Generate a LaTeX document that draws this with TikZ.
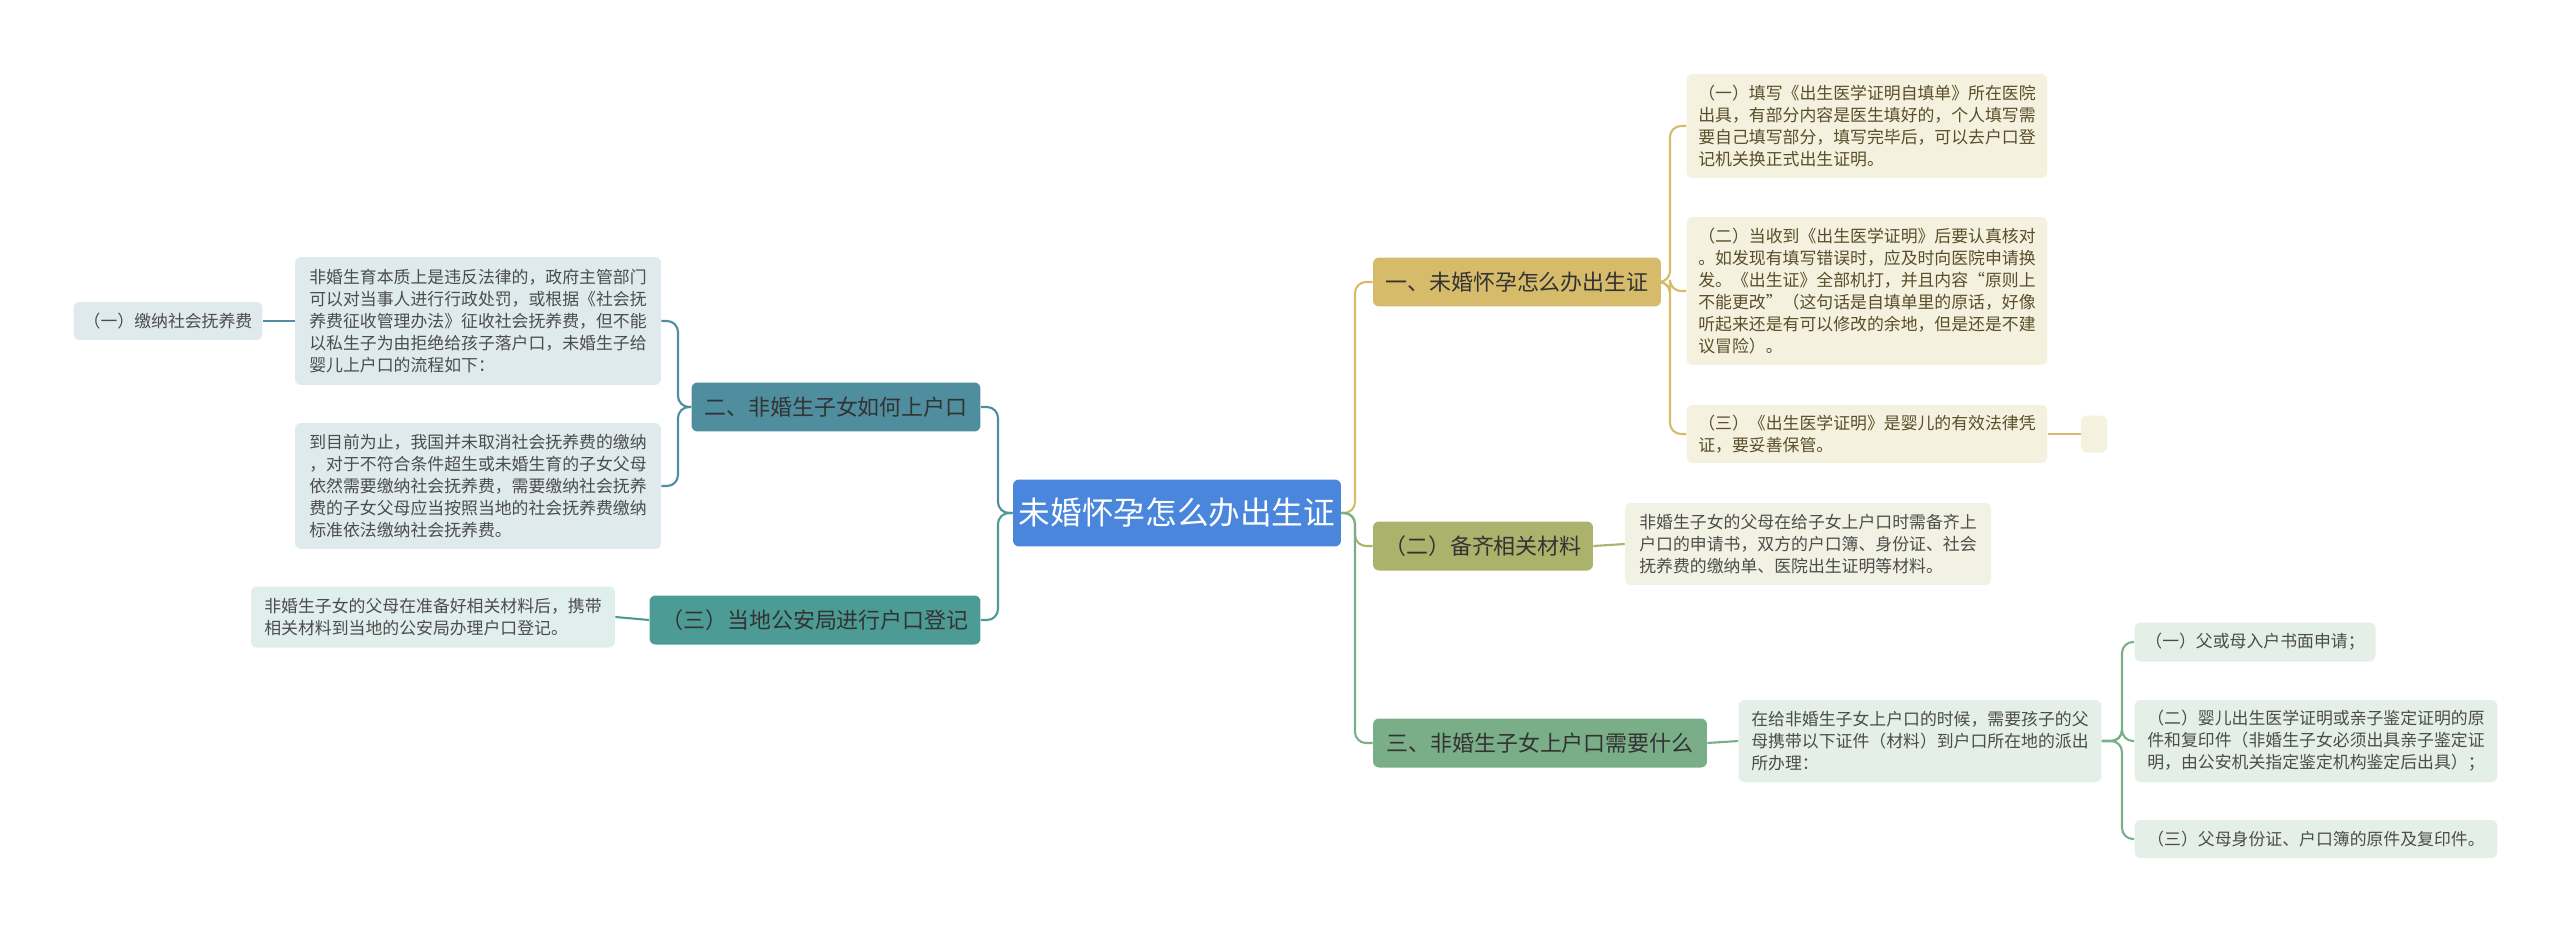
\documentclass[tikz,border=0pt]{standalone}
\usepackage{fontspec}
\setmainfont{Noto Sans CJK SC}
\usepackage{xcolor}
\usetikzlibrary{calc, positioning}
\definecolor{rootblue}{HTML}{4A87DC}
\definecolor{goldB}{HTML}{D5BB6A}
\definecolor{oliveB}{HTML}{AAB26B}
\definecolor{greenB}{HTML}{7AAE88}
\definecolor{tealA}{HTML}{4F8E9E}
\definecolor{tealB}{HTML}{4C9B94}
\definecolor{goldL}{HTML}{F5F1DF}
\definecolor{oliveL}{HTML}{F2F2E4}
\definecolor{greenL}{HTML}{E4EFE7}
\definecolor{tealL}{HTML}{DFEAED}
\definecolor{tealM}{HTML}{E0EEEC}
\definecolor{leaftext}{HTML}{5A4E2A}
\tikzset{
    root/.style={rectangle, rounded corners=0.12cm, fill=rootblue, text=white, font=\fontsize{18}{20}\selectfont, minimum width=6.54cm, minimum height=1.34cm},
    branch/.style={rectangle, rounded corners=0.12cm, text=black!80, font=\fontsize{12.5}{14}\selectfont, minimum height=0.98cm},
    leaf/.style={rectangle, rounded corners=0.12cm, align=left, inner sep=0pt, text=black!70, font=\fontsize{9.6}{12.5}\selectfont},
    link/.style={line width=1.2pt, rounded corners=0.22cm}
}
\begin{document}
\begin{tikzpicture}[x=0.02cm, y=-0.02cm]
        \useasboundingbox (0,0) rectangle (2560,933);
        % Central
        \node[root] (Root) at (1177,513) {未婚怀孕怎么办出生证};

        % Right branches
        \node[branch, fill=goldB, minimum width=5.76cm] (B1) at (1517,282) {一、未婚怀孕怎么办出生证};
        \node[branch, fill=oliveB, minimum width=4.4cm] (B2) at (1483,546) {（二）备齐相关材料};
        \node[branch, fill=greenB, minimum width=6.68cm] (B3) at (1540,743) {三、非婚生子女上户口需要什么};

        % Left branches
        \node[branch, fill=tealA, minimum width=5.78cm] (L1) at (836,407) {二、非婚生子女如何上户口};
        \node[branch, fill=tealB, minimum width=6.62cm] (L2) at (815,620) {（三）当地公安局进行户口登记};

        % Leaves of B1
        \node[leaf, fill=goldL, text=leaftext, minimum width=7.22cm, minimum height=2.08cm] (B1a) at (1867,126) {（一）填写《出生医学证明自填单》所在医院\\出具，有部分内容是医生填好的，个人填写需\\要自己填写部分，填写完毕后，可以去户口登\\记机关换正式出生证明。};
        \node[leaf, fill=goldL, text=leaftext, minimum width=7.22cm, minimum height=2.96cm] (B1b) at (1867,291) {（二）当收到《出生医学证明》后要认真核对\\。如发现有填写错误时，应及时向医院申请换\\发。《出生证》全部机打，并且内容“原则上\\不能更改”（这句话是自填单里的原话，好像\\听起来还是有可以修改的余地，但是还是不建\\议冒险）。};
        \node[leaf, fill=goldL, text=leaftext, minimum width=7.22cm, minimum height=1.16cm] (B1c) at (1867,434) {（三）《出生医学证明》是婴儿的有效法律凭\\证，要妥善保管。};
        \node[leaf, fill=goldL, minimum width=0.52cm, minimum height=0.74cm] (B1d) at (2094,434) {};

        % Leaf of B2
        \node[leaf, fill=oliveL, minimum width=7.32cm, minimum height=1.64cm] (B2a) at (1808,544) {非婚生子女的父母在给子女上户口时需备齐上\\户口的申请书，双方的户口簿、身份证、社会\\抚养费的缴纳单、医院出生证明等材料。};

        % Leaves of B3
        \node[leaf, fill=greenL, minimum width=7.26cm, minimum height=1.64cm] (B3a) at (1920,741) {在给非婚生子女上户口的时候，需要孩子的父\\母携带以下证件（材料）到户口所在地的派出\\所办理：};
        \node[leaf, fill=greenL, minimum width=4.82cm, minimum height=0.78cm] (S1) at (2255,642) {（一）父或母入户书面申请；};
        \node[leaf, fill=greenL, minimum width=7.26cm, minimum height=1.64cm] (S2) at (2316,741) {（二）婴儿出生医学证明或亲子鉴定证明的原\\件和复印件（非婚生子女必须出具亲子鉴定证\\明，由公安机关指定鉴定机构鉴定后出具）；};
        \node[leaf, fill=greenL, minimum width=7.26cm, minimum height=0.76cm] (S3) at (2316,839) {（三）父母身份证、户口簿的原件及复印件。};

        % Leaves of L1
        \node[leaf, fill=tealL, minimum width=7.32cm, minimum height=2.56cm] (L1a) at (478,321) {非婚生育本质上是违反法律的，政府主管部门\\可以对当事人进行行政处罚，或根据《社会抚\\养费征收管理办法》征收社会抚养费，但不能\\以私生子为由拒绝给孩子落户口，未婚生子给\\婴儿上户口的流程如下：};
        \node[leaf, fill=tealL, minimum width=7.32cm, minimum height=2.52cm] (L1b) at (478,486) {到目前为止，我国并未取消社会抚养费的缴纳\\，对于不符合条件超生或未婚生育的子女父母\\依然需要缴纳社会抚养费，需要缴纳社会抚养\\费的子女父母应当按照当地的社会抚养费缴纳\\标准依法缴纳社会抚养费。};
        \node[leaf, fill=tealL, minimum width=3.78cm, minimum height=0.76cm] (L1c) at (168,321) {（一）缴纳社会抚养费};

        % Leaf of L2
        \node[leaf, fill=tealM, minimum width=7.28cm, minimum height=1.22cm] (L2a) at (433,617) {非婚生子女的父母在准备好相关材料后，携带\\相关材料到当地的公安局办理户口登记。};

        % Trunks
        \draw[link, goldB] (Root.east) -- (1355,513) |- (B1.west);
        \draw[link, oliveB] (Root.east) -- (1355,513) |- (B2.west);
        \draw[link, greenB] (Root.east) -- (1355,513) |- (B3.west);
        \draw[link, tealA] (Root.west) -- (998,513) |- (L1.east);
        \draw[link, tealB] (Root.west) -- (998,513) |- (L2.east);

        % Arrows of B1
        \foreach \n in {B1a,B1b,B1c}
            \draw[link, goldB] (B1.east) -- (1670,282) |- (\n.west);
        \draw[link, goldB] (B1c.east) -- (B1d.west);
        \draw[link, oliveB] (B2.east) -- (B2a.west);
        \draw[link, greenB] (B3.east) -- (B3a.west);
        \foreach \n in {S1,S2,S3}
            \draw[link, greenB] (B3a.east) -- (2122,741) |- (\n.west);
        \foreach \n in {L1a,L1b}
            \draw[link, tealA] (L1.west) -- (678,407) |- (\n.east);
        \draw[link, tealA] (L1a.west) -- (L1c.east);
        \draw[link, tealB] (L2.west) -- (L2a.east);
    \end{tikzpicture}
\end{document}
